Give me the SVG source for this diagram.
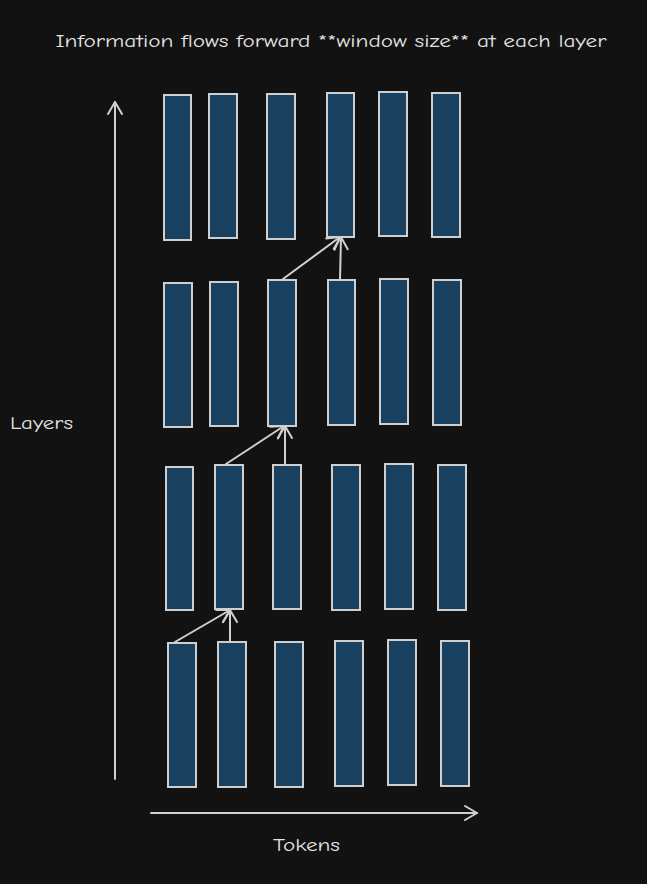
<svg xmlns="http://www.w3.org/2000/svg" width="647" height="884" viewBox="0 0 647 884">
<style>
.bg{fill:#121212}
.tok{fill:#1a4060;stroke:#cfcfcf;stroke-width:2}
.ln{stroke:#d0d0d0;stroke-width:2;fill:none;stroke-linecap:round;stroke-linejoin:round}
.t{fill:#e4e4e4;font-family:"Comic Neue","Liberation Sans",sans-serif;font-size:18px}
</style>
<defs>
<marker id="ah" viewBox="0 0 20 20" refX="18" refY="10" markerWidth="20" markerHeight="20" markerUnits="userSpaceOnUse" orient="auto">
<path d="M6,3 L18,10 L6,17" fill="none" stroke="#d0d0d0" stroke-width="2" stroke-linecap="round" stroke-linejoin="round"/>
</marker>
</defs>
<rect class="bg" x="0" y="0" width="647" height="884"/>
<text class="t" x="331" y="47" text-anchor="middle" textLength="551" lengthAdjust="spacingAndGlyphs">Information flows forward **window size** at each layer</text>
<g id="row1">
<rect id="r1c1" class="tok" x="164" y="95" width="27" height="145"/>
<rect id="r1c2" class="tok" x="209" y="94" width="28" height="144"/>
<rect id="r1c3" class="tok" x="267" y="94" width="28" height="145"/>
<rect id="r1c4" class="tok" x="327" y="93" width="27" height="144"/>
<rect id="r1c5" class="tok" x="379" y="92" width="28" height="144"/>
<rect id="r1c6" class="tok" x="432" y="93" width="28" height="144"/>
</g>
<g id="row2">
<rect id="r2c1" class="tok" x="164" y="283" width="28" height="144"/>
<rect id="r2c2" class="tok" x="210" y="282" width="28" height="144"/>
<rect id="r2c3" class="tok" x="268" y="280" width="28" height="146"/>
<rect id="r2c4" class="tok" x="328" y="280" width="27" height="145"/>
<rect id="r2c5" class="tok" x="380" y="279" width="28" height="145"/>
<rect id="r2c6" class="tok" x="433" y="280" width="28" height="145"/>
</g>
<g id="row3">
<rect id="r3c1" class="tok" x="166" y="467" width="27" height="143"/>
<rect id="r3c2" class="tok" x="215" y="465" width="28" height="144"/>
<rect id="r3c3" class="tok" x="273" y="465" width="28" height="144"/>
<rect id="r3c4" class="tok" x="332" y="465" width="28" height="145"/>
<rect id="r3c5" class="tok" x="385" y="464" width="28" height="145"/>
<rect id="r3c6" class="tok" x="438" y="465" width="28" height="145"/>
</g>
<g id="row4">
<rect id="r4c1" class="tok" x="168" y="643" width="28" height="144"/>
<rect id="r4c2" class="tok" x="218" y="642" width="28" height="145"/>
<rect id="r4c3" class="tok" x="275" y="642" width="28" height="145"/>
<rect id="r4c4" class="tok" x="335" y="641" width="28" height="145"/>
<rect id="r4c5" class="tok" x="388" y="640" width="28" height="145"/>
<rect id="r4c6" class="tok" x="441" y="641" width="28" height="145"/>
</g>
<g id="connectors">
<line class="ln" x1="115" y1="779" x2="115" y2="102" marker-end="url(#ah)"/>
<line class="ln" x1="151" y1="813" x2="477" y2="813" marker-end="url(#ah)"/>
<line class="ln" x1="175" y1="642" x2="230" y2="610" marker-end="url(#ah)"/>
<line class="ln" x1="230" y1="642" x2="230" y2="610" marker-end="url(#ah)"/>
<line class="ln" x1="226" y1="464" x2="284" y2="426" marker-end="url(#ah)"/>
<line class="ln" x1="285" y1="465" x2="285" y2="426" marker-end="url(#ah)"/>
<line class="ln" x1="283" y1="279" x2="340" y2="237" marker-end="url(#ah)"/>
<line class="ln" x1="340" y1="280" x2="341" y2="237" marker-end="url(#ah)"/>
</g>
<text class="t" x="10" y="429" textLength="63" lengthAdjust="spacingAndGlyphs">Layers</text>
<text class="t" x="273" y="851" textLength="67" lengthAdjust="spacingAndGlyphs">Tokens</text>
</svg>
